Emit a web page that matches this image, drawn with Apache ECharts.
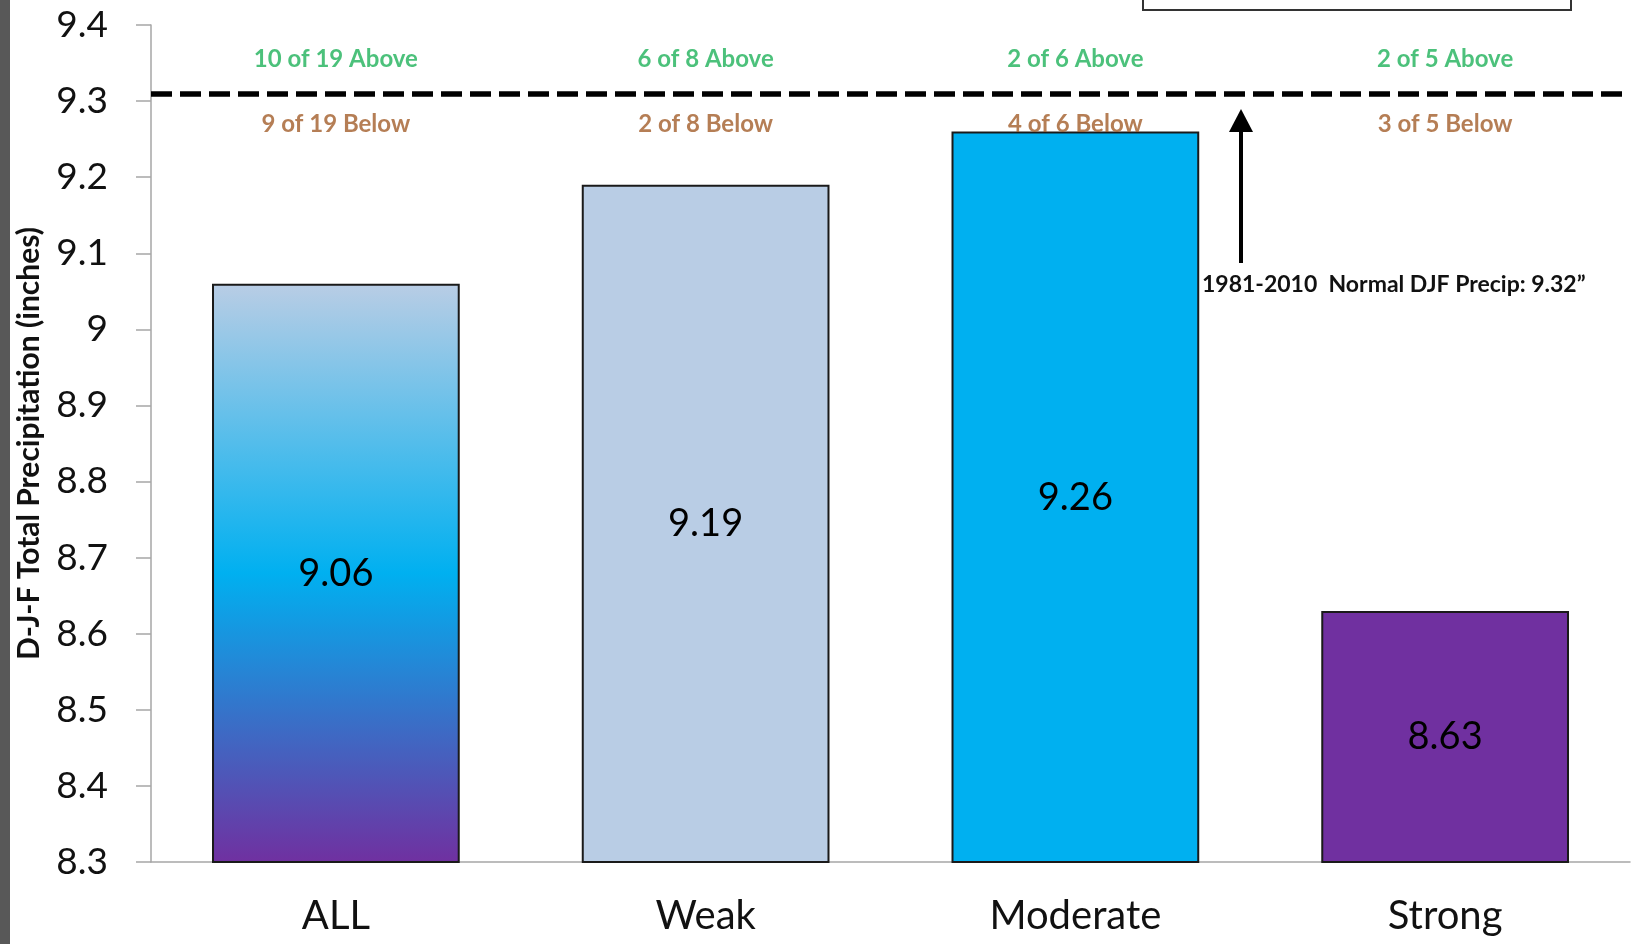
<!DOCTYPE html>
<html>
<head>
<meta charset="utf-8">
<script src="https://cdn.jsdelivr.net/npm/echarts@6/dist/echarts.min.js"></script>
<style>
  html, body { margin: 0; padding: 0; background: #fff; }
  #chart { width: 1633px; height: 944px; }
</style>
</head>
<body>
<div id="chart"></div>
<script>
// categories and seasonal means (inches)
var categories = ['ALL', 'Weak', 'Moderate', 'Strong'];
var precip = [9.06, 9.19, 9.26, 8.63];
var normalLine = 9.313; // where the dashed normal line sits in the picture
var aboveText = ['10 of 19 Above', '6 of 8 Above', '2 of 6 Above', '2 of 5 Above'];
var belowText = ['9 of 19 Below', '2 of 8 Below', '4 of 6 Below', '3 of 5 Below'];
var yTicks = ['8.3', '8.4', '8.5', '8.6', '8.7', '8.8', '8.9', '9', '9.1', '9.2', '9.3', '9.4'];

var FONT = 'Lato';

var barColors = [
    new echarts.graphic.LinearGradient(0, 0, 0, 1, [
        { offset: 0, color: '#B9CDE5' },
        { offset: 0.5, color: '#00B0F0' },
        { offset: 1, color: '#7030A0' }
    ]),
    '#B9CDE5',
    '#00B0F0',
    '#7030A0'
];

var barData = precip.map(function (v, i) {
    return { value: v, itemStyle: { color: barColors[i] } };
});

// text rows just above / below the normal line
var aboveRow = aboveText.map(function (t, i) { return { value: [categories[i], 9.355], name: t }; });
var belowRow = belowText.map(function (t, i) { return { value: [categories[i], 9.27], name: t }; });

var dom = document.getElementById('chart');
var myChart = echarts.init(dom);

var option = {
    animation: false,
    backgroundColor: '#fff',
    grid: { left: 151, right: 3, top: 25, bottom: 82 },
    xAxis: {
        type: 'category',
        data: categories,
        axisLine: { lineStyle: { color: '#A6A6A6', width: 1.5 } },
        axisTick: { length: 15, lineStyle: { color: '#A6A6A6', width: 1.5 } },
        axisLabel: { fontFamily: FONT, fontSize: 40, color: '#111', margin: 34 }
    },
    yAxis: {
        type: 'value',
        min: 8.3,
        max: 9.4,
        interval: 0.1,
        name: 'D-J-F Total Precipitation (inches)',
        nameLocation: 'middle',
        nameGap: 107,
        nameTextStyle: { fontFamily: FONT, fontSize: 30, fontWeight: 'bold', color: '#111' },
        splitLine: { show: false },
        axisLine: { show: true, lineStyle: { color: '#A6A6A6', width: 1.5 } },
        axisTick: { show: true, length: 15, lineStyle: { color: '#A6A6A6', width: 1.5 } },
        axisLabel: {
            fontFamily: FONT, fontSize: 37, color: '#111', margin: 43,
            formatter: function (v) {
                var idx = Math.round((v - 8.3) * 10);
                return yTicks[idx];
            }
        }
    },
    series: [
        {
            type: 'bar',
            data: barData,
            barWidth: '67%',
            itemStyle: { borderColor: '#1a1a1a', borderWidth: 2 },
            label: {
                show: true,
                position: 'inside',
                fontFamily: FONT,
                fontSize: 38,
                color: '#000',
                formatter: function (p) { return p.value.toFixed(2); }
            },
            markLine: {
                silent: true,
                symbol: 'none',
                label: { show: false },
                lineStyle: { color: '#000', width: 5.5, type: [21, 8] },
                data: [{ yAxis: normalLine }]
            },
            z: 2
        },
        {
            type: 'scatter',
            data: aboveRow,
            symbolSize: 0,
            label: {
                show: true, position: 'inside', formatter: '{b}',
                fontFamily: FONT, fontSize: 24, fontWeight: 'bold', color: '#1FB25A'
            },
            z: 5
        },
        {
            type: 'scatter',
            data: belowRow,
            symbolSize: 0,
            label: {
                show: true, position: 'inside', formatter: '{b}',
                fontFamily: FONT, fontSize: 24, fontWeight: 'bold', color: '#A35E2A'
            },
            z: 5
        }
    ],
    graphic: [
        // dark strip on the left edge
        { type: 'rect', left: 0, top: 0, shape: { width: 10, height: 944 }, style: { fill: '#585858' } },
        // box cut off at the top right
        { type: 'rect', left: 1142, top: -4, shape: { width: 428, height: 13 },
          style: { fill: '#fff', stroke: '#333', lineWidth: 2 } },
        // arrow pointing at the normal line
        { type: 'line', shape: { x1: 1241, y1: 128, x2: 1241, y2: 263 },
          style: { stroke: '#000', lineWidth: 4 } },
        { type: 'polygon', shape: { points: [[1241, 109], [1229, 132], [1253, 132]] },
          style: { fill: '#000' } },
        { type: 'text', left: 1202, top: 273,
          style: { text: '1981-2010  Normal DJF Precip: 9.32\u201d', font: 'bold 23px Lato', fill: '#111' } }
    ]
};

myChart.setOption(option, true);
</script>
</body>
</html>
